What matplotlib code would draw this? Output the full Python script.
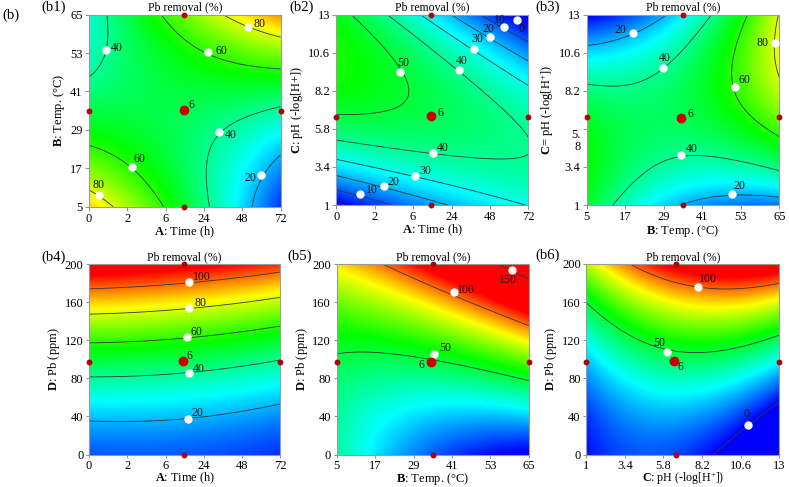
import numpy as np
import matplotlib
matplotlib.use("Agg")
import matplotlib.pyplot as plt
from matplotlib.colors import LinearSegmentedColormap, Normalize

plt.rcParams['font.family'] = ['Liberation Serif', 'DejaVu Serif']
plt.rcParams['mathtext.fontset'] = 'custom'
plt.rcParams['mathtext.rm'] = 'Liberation Serif'
plt.rcParams['mathtext.bf'] = 'Liberation Serif:bold'
plt.rcParams['mathtext.it'] = 'Liberation Serif:italic'

# ---------------- tick labels / design ranges ----------------
time_labels = ['0', '2', '6', '24', '48', '72']          # equally spaced levels (index 0..5)
temp_ticks = [5, 17, 29, 41, 53, 65]
ph_ticks = [1, 3.4, 5.8, 8.2, 10.6, 13]
pb_ticks = [0, 40, 80, 120, 160, 200]

time_center = 2.47
temp_center = 35
ph_center = 6.55
pb_center = 97.5

# ---------------- contour readings (x, y, level) ----------------
# (b1) A: time index vs B: temperature
b1_x = [0.50, 0.44, 0.00, 1.85, 2.37, 3.12, 5.00, 3.41, 4.16, 5.00, 0.00, 1.11, 1.94,
        0.00, 0.25, 0.63, 3.11, 3.24, 3.39, 3.93, 5.00, 4.28, 4.48, 5.00]
b1_y = [65, 53.96, 45.4, 65, 58.6, 53.2, 48.2, 65, 61.0, 58.6, 24.1, 17.5, 5,
        10.2, 8.65, 5, 5, 22.7, 28.2, 33.1, 35.2, 5, 14.9, 20.6]
b1_z = [40, 40, 40, 60, 60, 60, 60, 80, 80, 80, 60, 60, 60,
        80, 80, 80, 40, 40, 40, 40, 40, 20, 20, 20]

# (b2) A: time index vs C: pH
b2_x = [0.37, 1.24, 1.66, 1.76, 1.50, 0.81, 0.00,
        1.50, 3.19, 5.00, 2.24, 3.59, 5.00, 2.93, 3.99, 5.00, 3.59, 4.37, 5.00, 4.41, 4.70, 5.00,
        0.00, 2.52, 5.00, 0.00, 2.06, 5.00, 0.00, 1.24, 2.80, 0.00, 0.61, 1.24]
b2_y = [13, 11.19, 9.41, 8.25, 7.30, 6.99, 6.88,
        13, 9.51, 6.04, 13, 10.84, 8.57, 13, 11.61, 10.14, 13, 12.20, 11.30, 13, 12.68, 12.14,
        5.10, 4.26, 2.89, 3.94, 2.83, 1.53, 2.79, 2.22, 1.0, 1.84, 1.67, 1.0]
b2_z = [50, 50, 50, 50, 50, 50, 50,
        40, 40, 40, 30, 30, 30, 20, 20, 20, 10, 10, 10, 0, 0, 0,
        40, 40, 40, 30, 30, 30, 20, 20, 20, 10, 10, 10]

# (b3) B: temperature vs C: pH
b3_x = [5, 19.3, 30.4, 5, 12.8, 28.9, 43.9, 55.3, 51.3, 52.2, 65, 64.3, 63.75, 65,
        13.3, 25.2, 34.3, 43.9, 65, 35.1, 50.3, 65]
b3_y = [11.09, 11.87, 13, 8.57, 8.42, 9.66, 13, 13, 8.42, 6.99, 5.31, 13, 11.19, 9.30,
        1, 3.42, 4.15, 4.05, 3.10, 1, 1.67, 1.53]
b3_z = [20, 20, 20, 40, 40, 40, 40, 60, 60, 60, 60, 80, 80, 80,
        40, 40, 40, 40, 40, 20, 20, 20]

# (b4) A: time index vs D: Pb
b4_x = [0, 2.62, 4.73, 0, 2.62, 4.73, 0, 2.55, 4.73, 0, 2.62, 4.73, 0, 1.16, 2.58, 4.73]
b4_y = [173.8, 180.8, 190.6, 147.6, 153.8, 162.6, 116.8, 123.1, 132.9, 82.2, 85.7, 97.9,
        36.4, 33.2, 37.4, 51.7]
b4_z = [100, 100, 100, 80, 80, 80, 60, 60, 60, 40, 40, 40, 20, 20, 20, 20]

# (b5) B: temperature vs D: Pb
b5_x = [5, 19.6, 35.5, 65, 18.5, 41.5, 65, 55, 59.7, 65, 5, 16.5, 35, 57, 35, 65]
b5_y = [97.9, 109.1, 105.6, 75.2, 200, 170.6, 138.1, 200, 194.1, 181.8, 0, 0, 40, 51, 0, 0]
b5_z = [50, 50, 50, 50, 100, 100, 100, 150, 150, 150, 36, 28, 28, 28, 10, -4]

# (b6) C: pH vs D: Pb
b6_x = [3.72, 7.96, 9.10, 13, 1, 6.0, 7.24, 13, 9.21, 11.07, 13, 1, 6.5, 13]
b6_y = [200, 175.7, 172.2, 180.9, 162.4, 107.8, 102.6, 126.6, 0, 31.0, 58.1, 110, 79, 93]
b6_z = [100, 100, 100, 100, 50, 50, 50, 50, 0, 0, 0, 28, 28, 28]

# contour levels shown
b1_levels = [20, 40, 60, 80]
b2_levels = [0, 10, 20, 30, 40, 50]
b3_levels = [20, 40, 60, 80]
b4_levels = [20, 40, 60, 80, 100]
b5_levels = [50, 100, 150]
b6_levels = [0, 50, 100]

# ---------------- label markers: (x, y, text, dx_px, dy_px) ----------------
b1_marks = [(0.44, 53.96, '40', 11, 2), (3.12, 53.2, '60', 13, 1), (4.16, 61.0, '80', 11, 3),
            (3.39, 28.2, '40', 12, -3), (1.11, 17.5, '60', 8, 8), (0.25, 8.65, '80', 0, 10),
            (4.48, 14.9, '20', -10, -3)]
b2_marks = [(1.66, 9.41, '50', 3, 9), (3.19, 9.51, '40', 3, 9), (3.59, 10.84, '30', 3, 10),
            (3.99, 11.61, '20', -1, 8), (4.37, 12.20, '10', -4, 7), (4.70, 12.68, '0', 5, -9),
            (2.52, 4.26, '40', 10, 5), (2.06, 2.83, '30', 10, 5), (1.24, 2.22, '20', 10, 4),
            (0.61, 1.67, '10', 12, 4)]
b3_marks = [(19.3, 11.87, '20', -12, 3), (28.9, 9.66, '40', 1, 10), (51.3, 8.42, '60', 9, 7),
            (63.75, 11.19, '80', -13, 0), (34.3, 4.15, '40', 11, 6), (50.3, 1.67, '20', 7, 8)]
b4_marks = [(2.62, 180.8, '100', 13, 5), (2.62, 153.8, '80', 11, 5), (2.55, 123.1, '60', 10, 5),
            (2.62, 85.7, '40', 10, 4), (2.58, 37.4, '20', 10, 6)]
b5_marks = [(35.5, 105.6, '50', 11, 6), (41.5, 170.6, '100', 12, 2), (59.7, 194.1, '150', -4, -10)]
b6_marks = [(7.96, 175.7, '100', 10, 8), (6.0, 107.8, '50', -7, 9), (11.07, 31.0, '0', -2, 11)]

# center point offsets for the "6" label
b1_six = (2.48, 35.1, 7, 5)
b2_six = (2.47, 6.61, 9, 3)
b3_six = (34.5, 6.51, 9, 4)
b4_six = (2.46, 97.9, 6, 5)
b5_six = (34.4, 97.2, -9, -3)
b6_six = (6.47, 98.4, 6, -6)

# ---------------- figure ----------------
W, H = 789, 487
fig = plt.figure(figsize=(W / 100, H / 100), dpi=100)
cmap = LinearSegmentedColormap.from_list('de', ['#0000ff', '#00ffff', '#00ff00', '#ffff00', '#ff0000'])
norm = Normalize(vmin=0, vmax=112)


def quad_surface(xs, ys, zs, xlim, ylim, n=260):
    xs, ys, zs = map(np.asarray, (xs, ys, zs))
    cx, hx = (xlim[0] + xlim[1]) / 2, (xlim[1] - xlim[0]) / 2
    cy, hy = (ylim[0] + ylim[1]) / 2, (ylim[1] - ylim[0]) / 2
    u, v = (xs - cx) / hx, (ys - cy) / hy
    M = np.column_stack([np.ones_like(u), u, v, u * v, u * u, v * v])
    coef = np.linalg.lstsq(M, zs, rcond=None)[0]
    gx = np.linspace(xlim[0], xlim[1], n)
    gy = np.linspace(ylim[0], ylim[1], n)
    GX, GY = np.meshgrid(gx, gy)
    U, V = (GX - cx) / hx, (GY - cy) / hy
    Z = coef[0] + coef[1] * U + coef[2] * V + coef[3] * U * V + coef[4] * U * U + coef[5] * V * V
    return GX, GY, Z


def ax_px(l, b, w, h):
    return fig.add_axes([l / W, 1 - b / H, w / W, h / H])


lab = {
    'A': r'$\mathbf{A}$: Time (h)',
    'B': r'$\mathbf{B}$: Temp. (°C)',
    'C2': r'$\mathbf{C}$: pH (-log[H+])',
    'C3': r'$\mathbf{C}$= pH (-log[H$^{+}$])',
    'C6': r'$\mathbf{C}$: pH (-log[H$^{+}$])',
    'D': r'$\mathbf{D}$: Pb (ppm)',
}

panels = [
    dict(pos=(89, 206.7, 191.5, 192), x=b1_x, y=b1_y, z=b1_z, lv=b1_levels, mk=b1_marks, six=b1_six,
         xl=(0, 5), yl=(5, 65), xt='A', yt='temp', xlab=lab['A'], ylab=lab['B'], tag='(b1)', tagpos=(41, 7),
         xc=time_center, yc=temp_center, lp=-0.5, tl=3, fx=9),
    dict(pos=(336.3, 205, 192, 190.3), x=b2_x, y=b2_y, z=b2_z, lv=b2_levels, mk=b2_marks, six=b2_six,
         xl=(0, 5), yl=(1, 13), xt='A', yt='ph', xlab=lab['A'], ylab=lab['C2'], tag='(b2)', tagpos=(289, 7),
         xc=time_center, yc=ph_center, lp=-0.5, tl=3, fx=9),
    dict(pos=(586.7, 205, 192.6, 190.3), x=b3_x, y=b3_y, z=b3_z, lv=b3_levels, mk=b3_marks, six=b3_six,
         xl=(5, 65), yl=(1, 13), xt='temp', yt='ph3', xlab=lab['B'], ylab=lab['C3'], tag='(b3)', tagpos=(535, 7),
         xc=temp_center, yc=ph_center, lp=-0.5, tl=3, fx=9),
    dict(pos=(89, 454.5, 191.3, 190.3), x=b4_x, y=b4_y, z=b4_z, lv=b4_levels, mk=b4_marks, six=b4_six,
         xl=(0, 5), yl=(0, 200), xt='A', yt='pb', xlab=lab['A'], ylab=lab['D'], tag='(b4)', tagpos=(41, 257),
         xc=time_center, yc=pb_center, lp=-1.0, tl=2.5, fx=8.8),
    dict(pos=(336.7, 454.5, 192, 190.3), x=b5_x, y=b5_y, z=b5_z, lv=b5_levels, mk=b5_marks, six=b5_six,
         xl=(5, 65), yl=(0, 200), xt='temp', yt='pb', xlab=lab['B'], ylab=lab['D'], tag='(b5)', tagpos=(287, 256),
         xc=temp_center, yc=pb_center, lp=-1.0, tl=2.5, fx=9),
    dict(pos=(586.3, 454.5, 193, 190.5), x=b6_x, y=b6_y, z=b6_z, lv=b6_levels, mk=b6_marks, six=b6_six,
         xl=(1, 13), yl=(0, 200), xt='ph', yt='pb', xlab=lab['C6'], ylab=lab['D'], tag='(b6)', tagpos=(535, 255),
         xc=ph_center, yc=pb_center, lp=-1.0, tl=2.5, fx=8.6),
]

FS_TICK = 9
FS_LAB = 9
FS_MARK = 8.5


def set_ticks(ax, kind, axis):
    if kind == 'A':
        pos, labs = list(range(6)), time_labels
    elif kind == 'temp':
        pos, labs = temp_ticks, [str(t) for t in temp_ticks]
    elif kind == 'ph':
        pos, labs = ph_ticks, [('%g' % t) for t in ph_ticks]
    elif kind == 'ph3':
        pos, labs = ph_ticks, ['1', '3.4', '5.\n8', '8.2', '10.6', '13']
    else:
        pos, labs = pb_ticks, [str(t) for t in pb_ticks]
    if axis == 'x':
        ax.set_xticks(pos)
        ax.set_xticklabels(labs)
    else:
        ax.set_yticks(pos)
        tl = ax.set_yticklabels(labs, linespacing=1.0)
        if kind == 'ph3':
            tl[2].set_verticalalignment('top')


for p in panels:
    ax = ax_px(*p['pos'])
    GX, GY, Z = quad_surface(p['x'], p['y'], p['z'], p['xl'], p['yl'])
    ax.imshow(Z, origin='lower', extent=(p['xl'][0], p['xl'][1], p['yl'][0], p['yl'][1]),
              cmap=cmap, norm=norm, aspect='auto', interpolation='bilinear', zorder=1)
    ax.contour(GX, GY, Z, levels=p['lv'], colors='#2d3a3a', linewidths=0.6, zorder=2)
    ax.set_xlim(*p['xl'])
    ax.set_ylim(*p['yl'])
    set_ticks(ax, p['xt'], 'x')
    set_ticks(ax, p['yt'], 'y')
    ax.tick_params(direction='out', length=p['tl'], width=0.6, color='#808080', labelsize=FS_TICK, pad=1.5)
    for s in ax.spines.values():
        s.set_color('#9a9a9a')
        s.set_linewidth(0.8)
    ax.set_xlabel(p['xlab'], fontsize=p['fx'], labelpad=p['lp'])
    ax.set_ylabel(p['ylab'], fontsize=FS_LAB, labelpad=2)
    ax.set_title('Pb removal (%)', fontsize=8.5, pad=3)

    # label markers
    for (mx, my, t, dx, dy) in p['mk']:
        ax.plot([mx], [my], 'o', ms=5, mfc='white', mec='white', zorder=5, clip_on=False)
        ax.annotate(t, (mx, my), xytext=(dx * 0.72, dy * 0.72), textcoords='offset points',
                    ha='center', va='center', fontsize=FS_MARK, color='#111111', zorder=6,
                    annotation_clip=False)
    # design points
    xc, yc = p['xc'], p['yc']
    ax.plot([xc, xc, p['xl'][0], p['xl'][1]], [p['yl'][0], p['yl'][1], yc, yc], 'o',
            ms=3.2, mfc='#b00000', mec='#b00000', zorder=7, clip_on=False)
    sx, sy, sdx, sdy = p['six']
    ax.plot([sx], [sy], 'o', ms=6, mfc='#c80000', mec='#c80000', zorder=7)
    ax.annotate('6', (sx, sy), xytext=(sdx * 0.72, sdy * 0.72), textcoords='offset points',
                ha='center', va='center', fontsize=FS_MARK, color='#111111', zorder=8)

    tx, ty = p['tagpos']
    fig.text(tx / W, 1 - ty / H, p['tag'], fontsize=10.5, ha='left', va='center')

fig.text(2 / W, 1 - 15 / H, '(b)', fontsize=10.5, ha='left', va='center')

fig.savefig('out.png', dpi=100)
